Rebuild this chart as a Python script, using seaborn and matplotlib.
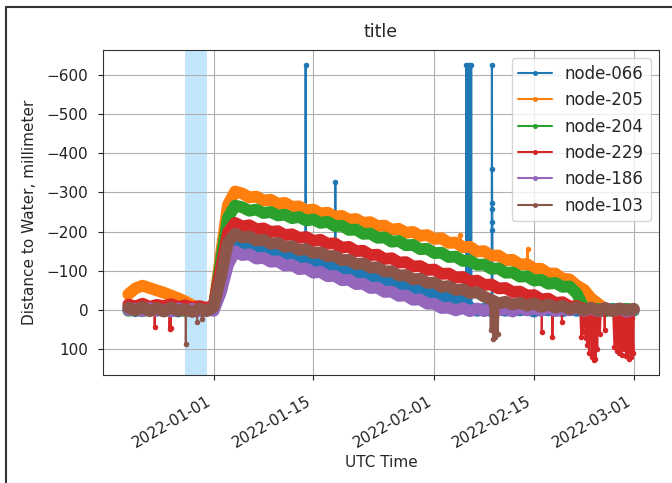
import pandas as pd
import matplotlib
matplotlib.use("Agg")
import matplotlib.pyplot as plt
import matplotlib.dates as mdates
import matplotlib.ticker as mticker
from matplotlib.lines import Line2D
import seaborn as sns

nodes = ["node-066", "node-205", "node-204", "node-229", "node-186", "node-103"]

# daily readings, 2021-12-20 .. 2022-03-01 (millimeter, negative = water above sensor datum)
daily_start = "2021-12-20"
daily_end = "2022-03-01"

node_066_mm = [
    -2, 3, -4, 2, -5, 1, -3, 4, -4, 1, -3, 2,
    -3, -80, -158,
    -177, -167, -168, -157, -158, -147, -149, -138, -139, -128,
    -130, -119, -120, -109, -110, -100, -101, -90, -92, -81,
    -82, -72, -73, -62, -63, -53, -54, -43, -45, -34,
    -35, -24, -23, -6,
    2, -3, 3, -2, 2, -4, 1, -3, 4, -3, 1, -2, 3, -2, 2, -4, 2, -1, 3, -3, 1, -3, 2,
]
node_205_mm = [
    -40, -55, -62, -56, -50, -44, -37, -30, -22, -12, -6, 1,
    -6, -140, -268, -302,
    -297, -287, -289, -279, -281, -271, -273, -263, -264, -254,
    -256, -246, -248, -238, -240, -230, -232, -222, -224, -214,
    -215, -205, -207, -197, -199, -189, -191, -181, -183, -171,
    -172, -160, -161, -149, -150, -138, -139, -127, -128, -116,
    -117, -105, -105, -93, -93, -80, -78, -62, -52, -30,
    -16, -3, 2, -3, 3, -1,
]
node_204_mm = [
    2, -2, 3, -3, 1, -3, 2, -1, 3, -2, 2, -3,
    -4, -125, -235, -266,
    -262, -253, -256, -247, -250, -241, -243, -234, -237, -228,
    -231, -222, -225, -214, -215, -204, -205, -194, -195, -184,
    -185, -174, -176, -165, -166, -155, -156, -145, -146, -135,
    -136, -125, -126, -115, -116, -105, -106, -95, -96, -85,
    -86, -75, -77, -67, -69, -59, -60, -42, -6, 2,
    -3, 3, -2, 3, -3, 1,
]
node_229_mm = [
    -14, -9, -16, -8, -13, -10, -15, -8, -12, -6, -10, -5,
    -12, -105, -198, -222,
    -213, -216, -206, -208, -199, -201, -191, -193, -184, -186,
    -176, -179, -169, -170, -159, -161, -150, -151, -140, -141,
    -130, -132, -121, -122, -111, -112, -102, -103, -92, -93,
    -83, -84, -73, -75, -64, -65, -55, -56, -46, -47,
    -37, -38, -27, -29, -18, -20, -9, -10, -2, -4,
    2, -3, 1, -3, 3, -2,
]
node_186_mm = [
    0, -3, 3, -5, 2, -1, 4, -4, 1, -3, 3, -1,
    2, -45, -115, -150,
    -140, -142, -131, -133, -123, -124, -113, -115, -104, -106,
    -95, -97, -86, -87, -76, -77, -66, -67, -56, -57,
    -46, -47, -36, -37, -26, -27, -16, -16, -5, -6,
    1, -5, 3, -4, 3, -6, 1, -3, 4, -6,
    1, -4, 2, -6, 3, -3, 1, -6, 2, -4,
    3, -5, 1, -3, 4, -2,
]
node_103_mm = [
    -6, 1, -8, 3, -5, 4, -7, 2, -2, 5, -4, 3,
    -8, -85, -172, -195,
    -185, -187, -177, -179, -169, -171, -161, -163, -153, -155,
    -145, -147, -137, -138, -127, -128, -117, -119, -108, -109,
    -98, -99, -88, -89, -78, -80, -69, -70, -59, -61,
    -51, -53, -43, -45, -34, -26, -17, -21, -14, -19,
    -11, -17, -8, -14, -6, -11, -2, -7, 1, -6,
    2, -5, 3, -4, 1, -3,
]

# isolated readings between the daily samples (spikes, dips and their neighbours)
node_066_extra_time = [
    "2022-01-13 21:00", "2022-01-13 22:00", "2022-01-13 23:00",
    "2022-01-18 01:00", "2022-01-18 02:00", "2022-01-18 03:00",
    "2022-02-05 11:00", "2022-02-05 12:00", "2022-02-05 13:00",
    "2022-02-05 19:00", "2022-02-05 20:00", "2022-02-05 21:00",
    "2022-02-06 03:00", "2022-02-06 04:00", "2022-02-06 05:00",
    "2022-02-09 01:00", "2022-02-09 02:00", "2022-02-09 02:20", "2022-02-09 02:40",
    "2022-02-09 03:00", "2022-02-09 03:20", "2022-02-09 03:40", "2022-02-09 04:00",
]
node_066_extra_mm = [
    -124, -625, -126,
    -104, -327, -106,
    -24, -625, -22,
    -20, -625, -19,
    -15, -625, -14,
    4, -625, -360, -272, -258, -225, -205, 2,
]

node_205_extra_time = [
    "2022-02-04 15:00", "2022-02-04 16:00", "2022-02-04 17:00",
    "2022-02-14 01:00", "2022-02-14 02:00", "2022-02-14 03:00",
]
node_205_extra_mm = [-166, -190, -164, -110, -156, -108]

node_204_extra_time = []
node_204_extra_mm = []

node_229_extra_time = [
    "2021-12-23 16:00", "2021-12-23 17:00", "2021-12-23 18:00",
    "2021-12-25 18:00", "2021-12-25 19:00", "2021-12-25 21:00", "2021-12-25 23:00",
    "2021-12-26 01:00",
    "2022-02-16 01:00", "2022-02-16 02:00", "2022-02-16 03:00",
    "2022-02-17 13:00", "2022-02-17 14:00", "2022-02-17 15:00",
    "2022-02-18 21:00", "2022-02-18 22:00", "2022-02-18 23:00",
    "2022-02-21 12:00", "2022-02-21 15:00", "2022-02-21 18:00", "2022-02-21 21:00",
    "2022-02-22 03:00", "2022-02-22 06:00", "2022-02-22 09:00", "2022-02-22 12:00",
    "2022-02-22 15:00", "2022-02-22 18:00", "2022-02-22 21:00",
    "2022-02-23 03:00", "2022-02-23 06:00", "2022-02-23 09:00", "2022-02-23 12:00",
    "2022-02-23 15:00", "2022-02-23 18:00", "2022-02-23 21:00",
    "2022-02-24 03:00", "2022-02-24 06:00", "2022-02-24 09:00",
    "2022-02-24 21:00", "2022-02-24 22:00", "2022-02-24 23:00",
    "2022-02-26 03:00", "2022-02-26 07:00", "2022-02-26 11:00", "2022-02-26 15:00",
    "2022-02-26 19:00", "2022-02-26 23:00", "2022-02-27 03:00", "2022-02-27 07:00",
    "2022-02-27 11:00", "2022-02-27 15:00", "2022-02-27 19:00", "2022-02-27 23:00",
    "2022-02-28 03:00", "2022-02-28 07:00", "2022-02-28 11:00", "2022-02-28 15:00",
    "2022-02-28 19:00", "2022-02-28 23:00",
]
node_229_extra_mm = [
    -10, 43, -8,
    -9, 48, 5, 45,
    -10,
    -24, 57, -22,
    -30, 69, -28,
    -18, 30, -16,
    5, 70, 0, 55,
    10, 72, 0, 90,
    5, 110, 10,
    120, 15, 128, 5,
    125, 20, 100,
    10, 60, 0,
    0, 50, 2,
    10, 95, 5, 105,
    20, 110, 8, 115,
    15, 100, 5, 118,
    12, 125, 10, 120,
    20, 110,
]

node_186_extra_time = []
node_186_extra_mm = []

node_103_extra_time = [
    "2021-12-28 01:00", "2021-12-28 02:00", "2021-12-28 03:00",
    "2021-12-29 15:00", "2021-12-29 16:00", "2021-12-29 17:00",
    "2021-12-30 09:00", "2021-12-30 10:00", "2021-12-30 11:00",
    "2022-02-08 20:00", "2022-02-08 22:00", "2022-02-09 02:00", "2022-02-09 06:00",
    "2022-02-09 10:00", "2022-02-09 14:00", "2022-02-09 18:00", "2022-02-09 22:00",
]
node_103_extra_mm = [
    -4, 86, -6,
    0, 30, -2,
    2, 22, -3,
    -30, 50, -20, 74,
    -15, 68, -18, 60,
]

daily_values = {
    "node-066": node_066_mm, "node-205": node_205_mm, "node-204": node_204_mm,
    "node-229": node_229_mm, "node-186": node_186_mm, "node-103": node_103_mm,
}
extra_values = {
    "node-066": (node_066_extra_time, node_066_extra_mm),
    "node-205": (node_205_extra_time, node_205_extra_mm),
    "node-204": (node_204_extra_time, node_204_extra_mm),
    "node-229": (node_229_extra_time, node_229_extra_mm),
    "node-186": (node_186_extra_time, node_186_extra_mm),
    "node-103": (node_103_extra_time, node_103_extra_mm),
}

days = pd.date_range(daily_start, daily_end, freq="D")

sns.set_style("ticks")
plt.rcParams["font.family"] = ["DejaVu Sans"]
palette = sns.color_palette("tab10", len(nodes))

fig = plt.figure(figsize=(6.72, 4.83), dpi=100)
ax = fig.add_axes([103 / 672, 1 - 375 / 483, (659 - 103) / 672, (375 - 50) / 483])

ax.axvspan(pd.Timestamp("2021-12-28"), pd.Timestamp("2021-12-31"),
           color="lightskyblue", alpha=0.5, lw=0, zorder=0.5)

handles = []
for node, color in zip(nodes, palette):
    daily = pd.DataFrame({"time": days, "mm": daily_values[node]})
    extra = pd.DataFrame({"time": pd.to_datetime(extra_values[node][0]),
                          "mm": extra_values[node][1]})
    full = pd.concat([daily, extra], ignore_index=True).sort_values("time")
    # dense readings smear into a thick band
    sns.lineplot(data=daily, x="time", y="mm", color=color, linewidth=8.5,
                 estimator=None, solid_joinstyle="round", solid_capstyle="round",
                 legend=False, ax=ax)
    # individual readings, including the isolated spikes
    sns.lineplot(data=full, x="time", y="mm", color=color, linewidth=1.5,
                 estimator=None, sort=True, marker=".", markersize=8,
                 markeredgewidth=0, legend=False, ax=ax)
    handles.append(ax.lines[-1])

ax.invert_yaxis()
ax.grid(True, color="#b0b0b0", linewidth=0.8)
ax.set_axisbelow(True)
ax.yaxis.set_major_locator(mticker.MultipleLocator(100))
ax.xaxis.set_major_locator(mdates.DayLocator(bymonthday=[1, 15]))
ax.xaxis.set_major_formatter(mdates.DateFormatter("%Y-%m-%d"))
ax.tick_params(labelsize=11, colors="#222222")
ax.tick_params(axis="y", pad=7)
ax.tick_params(axis="x", pad=10)
plt.setp(ax.get_xticklabels(), rotation=30, ha="right")
for s in ax.spines.values():
    s.set_color("#333333")

ax.set_xlabel("UTC Time", fontsize=11, labelpad=3)
ax.set_ylabel("Distance to Water, millimeter", fontsize=11, labelpad=7)
ax.set_title("title", fontsize=12.5, pad=9.5)

ax.legend(handles=handles, labels=nodes, loc="upper right",
          fontsize=12, labelspacing=0.5, markerscale=0.9)

# outer frame of the figure
fig.add_artist(Line2D([6 / 672, 6 / 672], [0, 1 - 7 / 483], transform=fig.transFigure,
                      color="#333333", lw=1.5))
fig.add_artist(Line2D([6 / 672, 1], [1 - 7 / 483, 1 - 7 / 483], transform=fig.transFigure,
                      color="#333333", lw=1.5))

fig.savefig("out.png", dpi=100)
